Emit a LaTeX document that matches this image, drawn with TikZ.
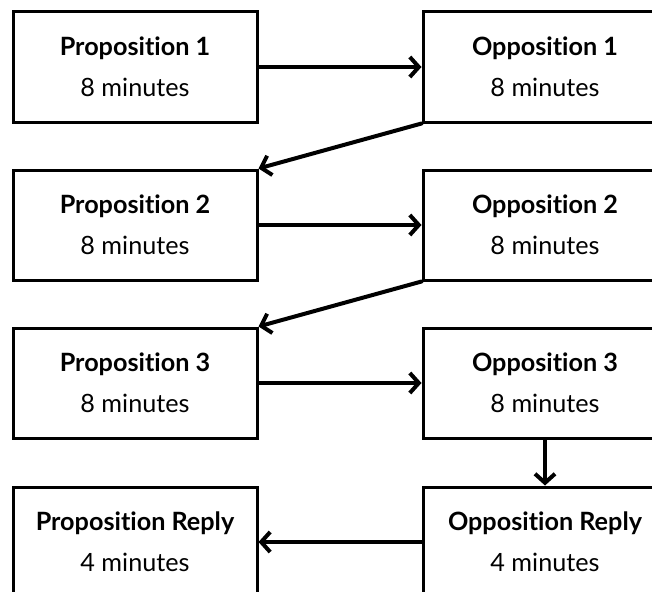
\documentclass[tikz,border=0pt]{standalone}
\usepackage{fontspec}
\setmainfont[Ligatures=NoCommon]{Lato}
\usetikzlibrary{arrows.meta}
\begin{document}
\begin{tikzpicture}[x=1pt, y=-1pt, line width=4pt,
  main/.style = {draw, rectangle, line width=3pt, minimum width=244pt, minimum height=110pt, align=center, font=\fontsize{25.2}{41}\selectfont},
  arr/.style = {-{Straight Barb[length=9pt, width=20pt, line width=4pt]}, line cap=round}]
  \useasboundingbox (0,0) rectangle (652,591);
  \node[main] (p1) at (135,67) {\textbf{Proposition 1}\\8 minutes};
  \node[main] (o1) at (545,67) {\textbf{Opposition 1}\\8 minutes};
  \node[main] (p2) at (135,225) {\textbf{Proposition 2}\\8 minutes};
  \node[main] (o2) at (545,225) {\textbf{Opposition 2}\\8 minutes};
  \node[main] (p3) at (135,383) {\textbf{Proposition 3}\\8 minutes};
  \node[main] (o3) at (545,383) {\textbf{Opposition 3}\\8 minutes};
  \node[main] (p4) at (135,542) {\textbf{Proposition Reply}\\4 minutes};
  \node[main] (o4) at (545,542) {\textbf{Opposition Reply}\\4 minutes};
  \draw[arr] (p1) to (o1);
  \draw[arr] (o1.south west) to (p2.north east);
  \draw[arr] (p2) to (o2);
  \draw[arr] (o2.south west) to (p3.north east);
  \draw[arr] (p3) to (o3);
  \draw[arr] (o3) to (o4);
  \draw[arr] (o4) to (p4);
\end{tikzpicture}
\end{document}
